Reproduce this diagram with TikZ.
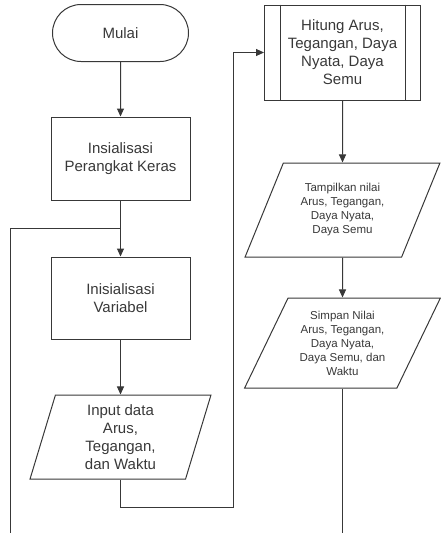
\documentclass[tikz,border=0pt]{standalone}
\usepackage{fontspec}
\setmainfont{Liberation Sans}
\usetikzlibrary{arrows.meta, positioning, shapes.geometric, shapes.misc, calc}

\begin{document}
\begin{tikzpicture}[x=1pt, y=1pt,
  every node/.style={text=black!78, font=\fontsize{15}{18}\selectfont, align=center, inner sep=2pt},
  flow/.style={draw=black!78, line width=1pt},
  startstop/.style={flow, rounded rectangle, minimum width=140pt, minimum height=57pt},
  procbox/.style={flow, rectangle, minimum width=139pt, minimum height=83pt},
  predef/.style={flow, rectangle, minimum width=156pt, minimum height=95pt},
  iobox/.style={flow, trapezium, trapezium stretches=true},
  smalltext/.style={font=\fontsize{11.5}{14}\selectfont},
  link/.style={draw=black!78, line width=1pt},
  arrowlink/.style={link, -{Triangle[length=8pt,width=7pt]}}
]
  \useasboundingbox (0,0) rectangle (440,-533);

  % === KOLOM KIRI ===
  \node[startstop] (mulai) at (120.5,-33) {Mulai};
  \node[procbox] (hwinit) at (120.5,-158.5) {Insialisasi\\Perangkat Keras};
  \node[procbox, minimum height=82pt] (varinit) at (120.5,-298) {Inisialisasi\\Variabel};
  \node[iobox, trapezium left angle=78, trapezium right angle=102,
        minimum width=181pt, minimum height=84pt] (input) at (120.5,-437)
        {Input data\\Arus,\\Tegangan,\\dan Waktu};

  % === KOLOM KANAN ===
  \node[predef] (hitung) at (342.5,-52.5) {Hitung Arus,\\Tegangan, Daya\\Nyata, Daya\\Semu};
  \draw[link] ([xshift=16pt]hitung.north west) -- ([xshift=16pt]hitung.south west);
  \draw[link] ([xshift=-16pt]hitung.north east) -- ([xshift=-16pt]hitung.south east);
  \node[iobox, smalltext, trapezium left angle=63.4, trapezium right angle=116.6,
        minimum width=195pt, minimum height=94pt] (tampil) at (342.5,-210)
        {Tampilkan nilai\\Arus, Tegangan,\\Daya Nyata,\\Daya Semu};
  \node[iobox, smalltext, trapezium left angle=62.4, trapezium right angle=117.6,
        minimum width=196pt, minimum height=90pt] (simpan) at (342.5,-343)
        {Simpan Nilai\\Arus, Tegangan,\\Daya Nyata,\\Daya Semu, dan\\Waktu};

  % Titik bantu
  \coordinate (loopBot) at (10,-533);
  \coordinate (loopJoin) at ($(hwinit.south)!0.5!(varinit.north)$);
  \coordinate (bendA) at (233,-507);
  \coordinate (endB) at (simpan.south |- loopBot);

  % Panah
  \draw[arrowlink] (mulai) -- (hwinit);
  \draw[arrowlink] (hwinit) -- (varinit);
  \draw[arrowlink] (varinit) -- (input);
  \draw[link] (loopBot) |- (loopJoin);
  \draw[arrowlink] (input.south) |- (bendA) |- (hitung.west);
  \draw[arrowlink] (hitung) -- (tampil);
  \draw[arrowlink] (tampil) -- (simpan);
  \draw[link] (simpan.south) -- (endB);
\end{tikzpicture}
\end{document}
